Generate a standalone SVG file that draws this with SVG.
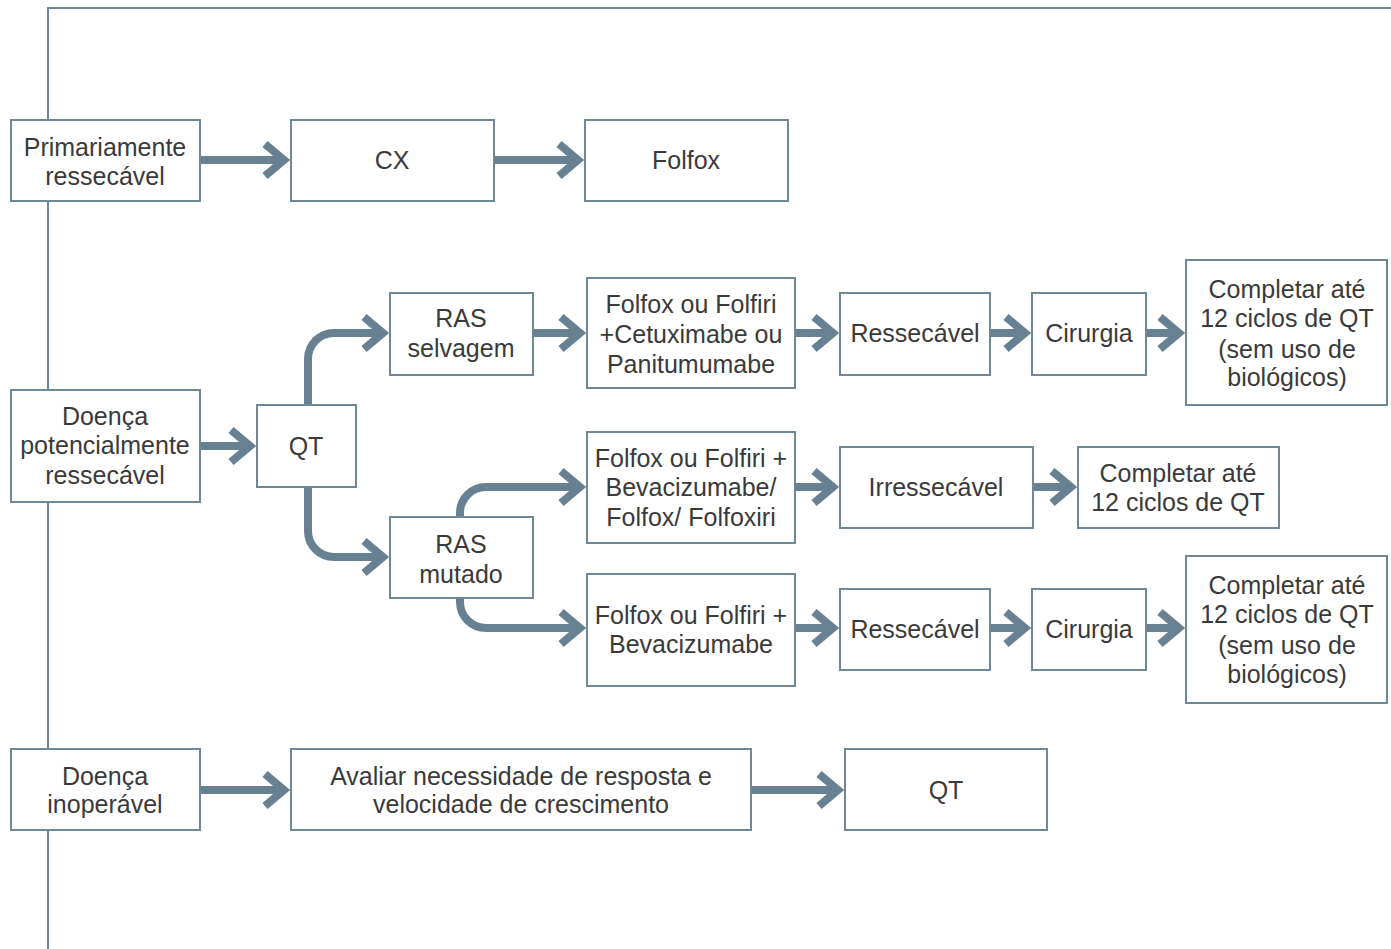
<svg xmlns="http://www.w3.org/2000/svg" width="1391" height="949" viewBox="0 0 1391 949">
<style>
.box{fill:#fff;stroke:#6f8899;stroke-width:2}
.frame{fill:none;stroke:#6f8899;stroke-width:2}
.t{font-family:"Liberation Sans",Arial,sans-serif;font-size:25px;fill:#3a3a3a;text-anchor:middle;dominant-baseline:central}
.c{fill:none;stroke:#678092;stroke-width:8}
</style>
<defs>
<marker id="chev" markerUnits="userSpaceOnUse" viewBox="-30 -25 40 50" refX="0" refY="0" markerWidth="40" markerHeight="50" orient="auto" overflow="visible">
<path d="M-19,-16 L0,0 L-19,16" fill="none" stroke="#678092" stroke-width="8" stroke-linejoin="miter" stroke-miterlimit="10"/>
</marker>
</defs>
<rect width="1391" height="949" fill="#fff"/>
<path class="frame" d="M48,949 V8 H1391"/>
<g id="connectors">
<path class="c" marker-end="url(#chev)" d="M200,160 H284"/>
<path class="c" marker-end="url(#chev)" d="M494,160 H578"/>
<path class="c" marker-end="url(#chev)" d="M200,446 H250"/>
<path class="c" marker-end="url(#chev)" d="M308,405 V359 A26,26 0 0 1 334,333 H383"/>
<path class="c" marker-end="url(#chev)" d="M308,487 V531 A26,26 0 0 0 334,557 H383"/>
<path class="c" marker-end="url(#chev)" d="M533,333 H580"/>
<path class="c" marker-end="url(#chev)" d="M795,333 H833"/>
<path class="c" marker-end="url(#chev)" d="M990,333 H1025"/>
<path class="c" marker-end="url(#chev)" d="M1146,333 H1179"/>
<path class="c" marker-end="url(#chev)" d="M460,517 V513 A26,26 0 0 1 486,487 H580"/>
<path class="c" marker-end="url(#chev)" d="M795,487 H833"/>
<path class="c" marker-end="url(#chev)" d="M1033,487 H1071"/>
<path class="c" marker-end="url(#chev)" d="M460,598 V602 A26,26 0 0 0 486,628 H580"/>
<path class="c" marker-end="url(#chev)" d="M795,628 H833"/>
<path class="c" marker-end="url(#chev)" d="M990,628 H1025"/>
<path class="c" marker-end="url(#chev)" d="M1146,628 H1179"/>
<path class="c" marker-end="url(#chev)" d="M200,790 H284"/>
<path class="c" marker-end="url(#chev)" d="M751,790 H838"/>
</g>
<g id="n-primariamente"><rect class="box" x="11" y="120" width="189" height="81"/><text class="t" x="105" y="147">Primariamente</text><text class="t" x="105" y="176">ressecável</text></g>
<g id="n-cx"><rect class="box" x="291" y="120" width="203" height="81"/><text class="t" x="392" y="160">CX</text></g>
<g id="n-folfox"><rect class="box" x="585" y="120" width="203" height="81"/><text class="t" x="686" y="160">Folfox</text></g>
<g id="n-ras-selvagem"><rect class="box" x="390" y="293" width="143" height="82"/><text class="t" x="461" y="318">RAS</text><text class="t" x="461" y="348">selvagem</text></g>
<g id="n-cetuximabe"><rect class="box" x="587" y="278" width="208" height="110"/><text class="t" x="691" y="304">Folfox ou Folfiri</text><text class="t" x="691" y="334">+Cetuximabe ou</text><text class="t" x="691" y="364">Panitumumabe</text></g>
<g id="n-ressecavel-1"><rect class="box" x="840" y="293" width="150" height="82"/><text class="t" x="915" y="333">Ressecável</text></g>
<g id="n-cirurgia-1"><rect class="box" x="1032" y="293" width="114" height="82"/><text class="t" x="1089" y="333">Cirurgia</text></g>
<g id="n-completar-1"><rect class="box" x="1186" y="260" width="201" height="145"/><text class="t" x="1287" y="289">Completar até</text><text class="t" x="1287" y="318">12 ciclos de QT</text><text class="t" x="1287" y="349">(sem uso de</text><text class="t" x="1287" y="377">biológicos)</text></g>
<g id="n-potencialmente"><rect class="box" x="11" y="390" width="189" height="112"/><text class="t" x="105" y="416">Doença</text><text class="t" x="105" y="445">potencialmente</text><text class="t" x="105" y="475">ressecável</text></g>
<g id="n-qt-1"><rect class="box" x="257" y="405" width="99" height="82"/><text class="t" x="306" y="446">QT</text></g>
<g id="n-bevacizumabe-1"><rect class="box" x="587" y="432" width="208" height="111"/><text class="t" x="691" y="458">Folfox ou Folfiri +</text><text class="t" x="691" y="487">Bevacizumabe/</text><text class="t" x="691" y="517">Folfox/ Folfoxiri</text></g>
<g id="n-irressecavel"><rect class="box" x="840" y="447" width="193" height="81"/><text class="t" x="936" y="487">Irressecável</text></g>
<g id="n-completar-2"><rect class="box" x="1078" y="447" width="201" height="81"/><text class="t" x="1178" y="473">Completar até</text><text class="t" x="1178" y="502">12 ciclos de QT</text></g>
<g id="n-ras-mutado"><rect class="box" x="390" y="517" width="143" height="81"/><text class="t" x="461" y="544">RAS</text><text class="t" x="461" y="574">mutado</text></g>
<g id="n-bevacizumabe-2"><rect class="box" x="587" y="574" width="208" height="112"/><text class="t" x="691" y="615">Folfox ou Folfiri +</text><text class="t" x="691" y="644">Bevacizumabe</text></g>
<g id="n-ressecavel-2"><rect class="box" x="840" y="589" width="150" height="81"/><text class="t" x="915" y="629">Ressecável</text></g>
<g id="n-cirurgia-2"><rect class="box" x="1032" y="589" width="114" height="81"/><text class="t" x="1089" y="629">Cirurgia</text></g>
<g id="n-completar-3"><rect class="box" x="1186" y="556" width="201" height="147"/><text class="t" x="1287" y="585">Completar até</text><text class="t" x="1287" y="614">12 ciclos de QT</text><text class="t" x="1287" y="645">(sem uso de</text><text class="t" x="1287" y="674">biológicos)</text></g>
<g id="n-inoperavel"><rect class="box" x="11" y="749" width="189" height="81"/><text class="t" x="105" y="776">Doença</text><text class="t" x="105" y="804">inoperável</text></g>
<g id="n-avaliar"><rect class="box" x="291" y="749" width="460" height="81"/><text class="t" x="521" y="776">Avaliar necessidade de resposta e</text><text class="t" x="521" y="804">velocidade de crescimento</text></g>
<g id="n-qt-2"><rect class="box" x="845" y="749" width="202" height="81"/><text class="t" x="946" y="790">QT</text></g>
</svg>
